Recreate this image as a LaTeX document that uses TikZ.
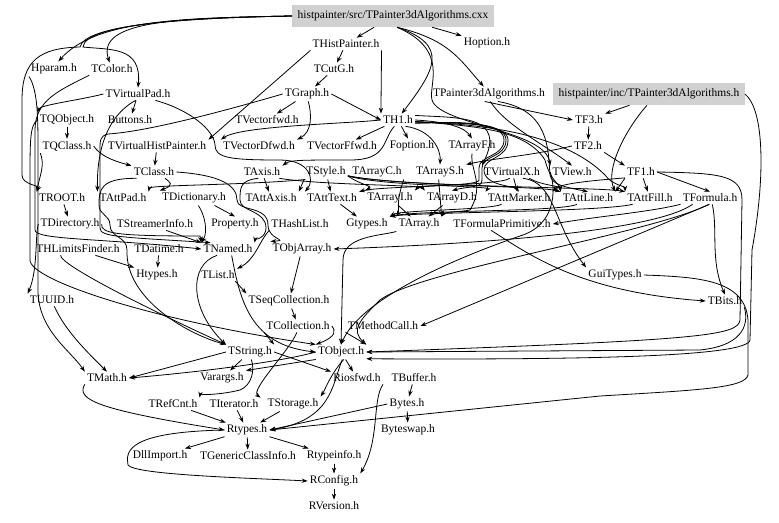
\documentclass[tikz,border=0pt]{standalone}
\usepackage{fontspec}
\setmainfont{Liberation Serif}
\usetikzlibrary{arrows.meta}
\newcommand\fsz{\fontsize{8.6}{10}\selectfont}
\tikzset{
  n/.style={inner sep=1.5pt, font=\fsz},
  g/.style={n, fill=black!18, minimum height=16.5pt, inner xsep=4pt},
  e/.style={-{Stealth[length=4.5pt,width=3.2pt]}, line width=0.6pt},
}
\begin{document}
\begin{tikzpicture}[x=0.75pt,y=-0.75pt]
\useasboundingbox (0,0) rectangle (779,522);
% nodes
\node[g] (cxx) at (393,16) {histpainter/src/TPainter3dAlgorithms.cxx};
\node[n] (hpnt) at (346,44) {THistPainter.h};
\node[n] (hopt) at (487,43) {Hoption.h};
\node[n] (hparam) at (54,69) {Hparam.h};
\node[n] (tcolor) at (112,69) {TColor.h};
\node[n] (tcutg) at (334,69) {TCutG.h};
\node[n] (tvpad) at (138,94) {TVirtualPad.h};
\node[n] (tgraph) at (307,94) {TGraph.h};
\node[n] (tp3h) at (489,94) {TPainter3dAlgorithms.h};
\node[g] (inc) at (649,94) {histpainter/inc/TPainter3dAlgorithms.h};
\node[n] (tqobj) at (67,120) {TQObject.h};
\node[n] (buttons) at (130,120) {Buttons.h};
\node[n] (tvecfwd) at (267,120) {TVectorfwd.h};
\node[n] (th1) at (398,120) {TH1.h};
\node[n] (tf3) at (589,120) {TF3.h};
\node[n] (tqclass) at (67,146) {TQClass.h};
\node[n] (tvhp) at (157,146) {TVirtualHistPainter.h};
\node[n] (tvdfwd) at (259,146) {TVectorDfwd.h};
\node[n] (tvffwd) at (342,146) {TVectorFfwd.h};
\node[n] (fopt) at (412,146) {Foption.h};
\node[n] (tarrf) at (472,146) {TArrayF.h};
\node[n] (tf2) at (588,146) {TF2.h};
\node[n] (tclass) at (154,172) {TClass.h};
\node[n] (taxis) at (262,172) {TAxis.h};
\node[n] (tstyle) at (326,172) {TStyle.h};
\node[n] (tarrc) at (377,172) {TArrayC.h};
\node[n] (tarrs) at (440,172) {TArrayS.h};
\node[n] (tvx) at (512,172) {TVirtualX.h};
\node[n] (tview) at (572,172) {TView.h};
\node[n] (tf1) at (641,172) {TF1.h};
\node[n] (troot) at (62,198) {TROOT.h};
\node[n] (tattpad) at (123,198) {TAttPad.h};
\node[n] (tdict) at (194,198) {TDictionary.h};
\node[n] (tattaxis) at (271,198) {TAttAxis.h};
\node[n] (tatttext) at (332,198) {TAttText.h};
\node[n] (tarri) at (390,198) {TArrayI.h};
\node[n] (tarrd) at (452,198) {TArrayD.h};
\node[n] (tattmark) at (519,198) {TAttMarker.h};
\node[n] (tattline) at (588,198) {TAttLine.h};
\node[n] (tattfill) at (650,198) {TAttFill.h};
\node[n] (tformula) at (710,198) {TFormula.h};
\node[n] (tdir) at (70,224) {TDirectory.h};
\node[n] (tsinfo) at (155,224) {TStreamerInfo.h};
\node[n] (prop) at (235,224) {Property.h};
\node[n] (thash) at (300,224) {THashList.h};
\node[n] (gtypes) at (367,224) {Gtypes.h};
\node[n] (tarray) at (419,224) {TArray.h};
\node[n] (tfprim) at (502,224) {TFormulaPrimitive.h};
\node[n] (thlf) at (78,249) {THLimitsFinder.h};
\node[n] (tdatime) at (159,249) {TDatime.h};
\node[n] (tnamed) at (228,249) {TNamed.h};
\node[n] (tobjarr) at (302,249) {TObjArray.h};
\node[n] (htypes) at (157,275) {Htypes.h};
\node[n] (tlist) at (218,275) {TList.h};
\node[n] (guitypes) at (615,275) {GuiTypes.h};
\node[n] (tuuid) at (52,300) {TUUID.h};
\node[n] (tseqc) at (289,301) {TSeqCollection.h};
\node[n] (tbits) at (725,301) {TBits.h};
\node[n] (tcoll) at (298,326) {TCollection.h};
\node[n] (tmcall) at (383,326) {TMethodCall.h};
\node[n] (tstring) at (250,352) {TString.h};
\node[n] (tobject) at (341,352) {TObject.h};
\node[n] (tmath) at (107,378) {TMath.h};
\node[n] (varargs) at (222,378) {Varargs.h};
\node[n] (riosfwd) at (357,378) {Riosfwd.h};
\node[n] (tbuffer) at (414,378) {TBuffer.h};
\node[n] (trefcnt) at (173,404) {TRefCnt.h};
\node[n] (titer) at (234,404) {TIterator.h};
\node[n] (tstorage) at (293,404) {TStorage.h};
\node[n] (bytes) at (407,404) {Bytes.h};
\node[n] (rtypes) at (247,430) {Rtypes.h};
\node[n] (byteswap) at (408,430) {Byteswap.h};
\node[n] (dllimport) at (160,456) {DllImport.h};
\node[n] (tgci) at (248,456) {TGenericClassInfo.h};
\node[n] (rtypeinfo) at (334,456) {Rtypeinfo.h};
\node[n] (rconfig) at (334,481) {RConfig.h};
\node[n] (rversion) at (334,506) {RVersion.h};
% edges: top
\draw[e] (cxx) -- (hpnt);
\draw[e] (cxx) -- (hopt);
\draw[e] (cxx.-70) .. controls (450,40) and (460,60) .. (tp3h.125);
\draw[e] (cxx.-70) .. controls (450,45) and (435,70) .. (th1.60);
\draw[e] (cxx.west) .. controls (180,18) and (95,20) .. (hparam.60);
\draw[e] (cxx.west) .. controls (180,18) and (95,20) .. (tcolor.110);
\draw[e] (cxx.west) .. controls (180,18) and (85,25) .. (83,47) .. controls (110,50) and (142,46) .. (tvpad.north);
\draw[e] (cxx.west) .. controls (180,18) and (85,25) .. (80,47) .. controls (40,48) and (22,60) .. (22,100) -- (22,175) .. controls (22,185) and (40,185) .. (troot.north west);
\draw[e] (cxx.-70) .. controls (450,50) and (428,85) .. (432,100) .. controls (440,125) and (545,130) .. (tview.north west);
\draw[e] (hpnt) -- (tcutg);
\draw[e] (hpnt.south east) -- (th1.north west);
\draw[e] (hpnt.south west) -- (tvhp.north east);
\draw[e] (tcutg) -- (tgraph);
\draw[e] (tgraph) -- (tvecfwd);
\draw[e] (tgraph.-80) .. controls (312,115) and (312,132) .. (tvdfwd.north east);
\draw[e] (tgraph.east) -- (th1.west);
\draw[e] (tgraph.west) .. controls (200,118) and (140,132) .. (108,134) .. controls (100,136) and (100,140) .. (100,150) -- (100,228) .. controls (100,237) and (120,237) .. (tnamed.160);
% TH1
\draw[e] (th1.west) .. controls (340,124) and (240,126) .. (tvdfwd.north west);
\draw[e] (th1) -- (tvffwd);
\draw[e] (th1) -- (fopt);
\draw[e] (th1.east) .. controls (450,122) and (465,128) .. (tarrf.north);
\draw[e] (th1.-120) .. controls (382,140) and (388,160) .. (350,160) .. controls (300,160) and (290,160) .. (taxis.north east);
\draw[e] (th1.-40) .. controls (432,130) and (441,150) .. (tarrs.north);
\draw[e] (th1.-10) .. controls (470,121) and (506,124) .. (506,140) .. controls (506,158) and (482,155) .. (482,168) -- (482,180) .. controls (482,188) and (470,186) .. (tarrd.north);
\draw[e] (th1.-10) .. controls (470,121) and (504,124) .. (504,140) .. controls (504,157) and (479,155) .. (479,168) -- (479,180) .. controls (479,186) and (420,185) .. (tarri.north east);
\draw[e] (th1.-10) .. controls (470,122) and (508,125) .. (508,140) .. controls (508,159) and (484,157) .. (484,170) .. controls (484,186) and (515,186) .. (tattmark.north);
\draw[e] (th1.15) .. controls (460,118) and (507,115) .. (tvx.north west);
\draw[e] (th1.-5) .. controls (470,126) and (525,128) .. (545,160) .. controls (550,180) and (560,185) .. (tattline.north west);
\draw[e] (th1.-5) .. controls (470,124) and (560,130) .. (605,175) .. controls (612,185) and (625,186) .. (tattfill.north west);
% TPainter3dAlgorithms.h
\draw[e] (tp3h.-120) -- (tf3.west);
\draw[e] (tp3h.-80) .. controls (505,125) and (545,145) .. (tview.north);
\draw[e] (tp3h.-40) .. controls (550,110) and (548,150) .. (550,175) .. controls (552,185) and (565,187) .. (tattline.north);
\draw[e] (inc.-150) -- (tf3.north east);
\draw[e] (inc.-100) .. controls (625,130) and (605,170) .. (tattline.north east);
\draw[e] (inc.east) .. controls (765,110) and (765,180) .. (752,250) -- (750,340) .. controls (748,356) and (600,360) .. (tobject.-15);
\draw[e] (tf3) -- (tf2);
\draw[e] (tf2.south east) -- (tf1.north west);
\draw[e] (tf2.west) .. controls (530,156) and (495,158) .. (tarrs.north east);
\draw[e] (tf1.east) -- (tformula.north);
\draw[e] (tf1.south west) -- (tattline.north east);
\draw[e] (tf1) -- (tattfill);
\draw[e] (tf1.200) .. controls (600,180) and (560,183) .. (tattmark.north east);
\draw[e] (tf1.east) .. controls (720,173) and (742,175) .. (742,200) -- (740,320) .. controls (738,336) and (700,340) .. (tobject.east);
\draw[e] (tformula.south west) .. controls (650,212) and (600,216) .. (tfprim.east);
\draw[e] (tformula.-70) .. controls (718,230) and (710,260) .. (tbits.north);
\draw[e] (tformula.-95) -- (tmcall.east);
\draw[e] (tformula.-160) .. controls (650,234) and (450,245) .. (tobjarr.east);
\draw[e] (tformula.-100) .. controls (650,234) and (420,270) .. (380,300) .. controls (360,320) and (350,330) .. (tobject.north east);
\draw[e] (tfprim.-150) .. controls (530,255) and (580,292) .. (tbits.west);
\draw[e] (tvx.-30) .. controls (556,182) and (553,225) .. (guitypes.north west);
\draw[e] (tvx.-110) .. controls (500,186) and (380,186) .. (tatttext.north east);
\draw[e] (tvx) -- (tattmark);
\draw[e] (tvx.-20) .. controls (540,185) and (560,186) .. (tattline.north west);
\draw[e] (tview.west) .. controls (556,190) and (556,225) .. (520,236) .. controls (450,260) and (360,300) .. (tobject.north);
\draw[e] (tattline.-150) .. controls (560,212) and (420,210) .. (gtypes.north east);
\draw[e] (tattfill.-160) .. controls (600,212) and (420,212) .. (gtypes.north east);
\draw[e] (tattmark.-160) .. controls (490,210) and (400,210) .. (gtypes.north east);
\draw[e] (tatttext) -- (gtypes);
% arrays
\draw[e] (tarrc.south east) .. controls (395,205) and (400,210) .. (tarray.north west);
\draw[e] (tarrs.-100) -- (tarray.north east);
\draw[e] (tarri) -- (tarray);
\draw[e] (tarrd) -- (tarray);
\draw[e] (tarrf.south) .. controls (470,170) and (485,185) .. (470,210) .. controls (460,212) and (445,212) .. (tarray.north east);
\draw[e] (tarray.south west) .. controls (380,236) and (343,236) .. (343,260) -- (tobject.north);
% TAxis / TStyle
\draw[e] (taxis) -- (tattaxis);
\draw[e] (taxis.-120) .. controls (240,180) and (240,188) .. (240,200) .. controls (240,212) and (266,210) .. (266,228) .. controls (266,238) and (255,240) .. (tnamed.north east);
\draw[e] (taxis.-20) .. controls (320,185) and (420,185) .. (tarrd.north west);
\draw[e] (tstyle) -- (tatttext);
\draw[e] (tstyle.south west) -- (tattaxis.north east);
\draw[e] (tstyle.-10) .. controls (400,186) and (540,186) .. (tattline.north west);
\draw[e] (tstyle.-10) .. controls (400,187) and (600,187) .. (tattfill.north west);
\draw[e] (tstyle.-10) .. controls (380,186) and (490,186) .. (tattmark.north west);
\draw[e] (tstyle.200) .. controls (250,185) and (150,185) .. (tattpad.north east);
\draw[e] (tstyle.-10) .. controls (360,185) and (375,186) .. (tarri.north west);
% left half
\draw[e] (tvhp) -- (tclass);
\draw[e] (tvpad) -- (buttons);
\draw[e] (tvpad.west) .. controls (80,100) and (40,105) .. (tqobj.north west);
\draw[e] (tvpad.-110) .. controls (100,120) and (97,165) .. (tattpad.north west);
\draw[e] (tvpad.-20) .. controls (190,110) and (214,130) .. (215,145) .. controls (215,158) and (230,160) .. (280,160) .. controls (310,160) and (315,180) .. (tatttext.north west);
\draw[e] (tcolor.south west) .. controls (60,90) and (35,100) .. (35,130) -- (35,230) .. controls (35,240) and (100,238) .. (tnamed.west);
\draw[e] (tqobj) -- (tqclass);
\draw[e] (tqclass.east) .. controls (100,155) and (110,160) .. (tclass.north west);
\draw[e] (tqclass.south west) .. controls (45,165) and (40,175) .. (troot.north west);
\draw[e] (tqobj.west) .. controls (30,125) and (30,140) .. (30,180) -- (30,260) .. controls (30,280) and (150,320) .. (tobject.north west);
\draw[e] (tclass.-30) .. controls (170,182) and (175,185) .. (tdict.north west);
\draw[e] (tclass.east) .. controls (220,175) and (237,185) .. (237,200) .. controls (237,212) and (268,205) .. (268,225) .. controls (268,240) and (290,240) .. (tobjarr.north west);
\draw[e] (tclass.200) .. controls (100,178) and (99,190) .. (99,205) .. controls (99,215) and (110,215) .. (110,225) .. controls (110,238) and (127,236) .. (127,250) .. controls (125,300) and (190,335) .. (tstring.north west);
\draw[e] (troot) -- (tdir);
\draw[e] (tdir.east) .. controls (100,234) and (120,236) .. (200,236) -- (tnamed.north west);
\draw[e] (tdir.west) .. controls (35,235) and (38,270) .. (tuuid.north west);
\draw[e] (tdatime) -- (htypes);
\draw[e] (thlf.-20) -- (htypes.north west);
\draw[e] (thlf.-160) .. controls (60,265) and (150,310) .. (tstring.north west);
\draw[e] (tsinfo.-30) -- (tnamed.north west);
\draw[e] (tdict.-20) -- (prop.north);
\draw[e] (tdict.-60) .. controls (205,215) and (208,232) .. (tnamed.north west);
\draw[e] (thash.south west) .. controls (260,240) and (255,260) .. (tlist.north east);
\draw[e] (tobjarr) -- (tseqc);
\draw[e] (tlist.-20) -- (tseqc.north west);
\draw[e] (tseqc) -- (tcoll);
\draw[e] (tcoll.east) .. controls (335,330) and (338,336) .. (tobject.north west);
\draw[e] (tcoll.south west) -- (tstring.north east);
\draw[e] (tcoll.-100) .. controls (290,350) and (250,390) .. (titer.north east);
\draw[e] (tmcall.south west) -- (tobject.north east);
\draw[e] (tnamed.-150) .. controls (188,265) and (190,310) .. (tstring.north west);
\draw[e] (tnamed.-60) .. controls (240,300) and (250,345) .. (tobject.west);
\draw[e] (hparam.south west) .. controls (38,90) and (38,120) .. (38,150) -- (38,290) .. controls (38,330) and (70,350) .. (tmath.north west);
\draw[e] (tuuid.-70) .. controls (65,330) and (85,350) .. (tmath.north);
% bottom
\draw[e] (tstring.west) -- (tmath.east);
\draw[e] (tstring) -- (varargs);
\draw[e] (tstring.-80) .. controls (255,370) and (252,385) .. (240,390) .. controls (220,395) and (200,395) .. (trefcnt.north east);
\draw[e] (tstring.east) -- (riosfwd.north west);
\draw[e] (tobject.west) .. controls (280,362) and (200,372) .. (tmath.east);
\draw[e] (tobject.south west) -- (varargs.north east);
\draw[e] (tobject) -- (riosfwd);
\draw[e] (tobject.-70) .. controls (330,375) and (325,390) .. (tstorage.north east);
\draw[e] (tobject.-80) .. controls (332,385) and (332,420) .. (rtypes.east);
\draw[e] (tbits.south east) .. controls (748,320) and (748,345) .. (700,350) -- (tobject.east);
\draw[e] (guitypes.east) .. controls (700,277) and (745,280) .. (748,320) -- (748,375) .. controls (745,388) and (700,390) .. (600,396) -- (rtypes.east);
\draw[e] (tbuffer) -- (bytes);
\draw[e] (bytes) -- (byteswap);
\draw[e] (bytes.west) -- (rtypes.east);
\draw[e] (trefcnt) -- (rtypes);
\draw[e] (titer) -- (rtypes);
\draw[e] (tstorage) -- (rtypes);
\draw[e] (tmath.south west) .. controls (75,400) and (100,410) .. (rtypes.west);
\draw[e] (rtypes) -- (dllimport);
\draw[e] (rtypes) -- (tgci);
\draw[e] (rtypes) -- (rtypeinfo);
\draw[e] (rtypes.west) .. controls (130,432) and (125,450) .. (128,465) .. controls (135,475) and (250,478) .. (rconfig.west);
\draw[e] (rtypeinfo) -- (rconfig);
\draw[e] (rconfig) -- (rversion);
\draw[e] (riosfwd.south east) .. controls (372,400) and (380,440) .. (rconfig.north east);
\end{tikzpicture}
\end{document}
